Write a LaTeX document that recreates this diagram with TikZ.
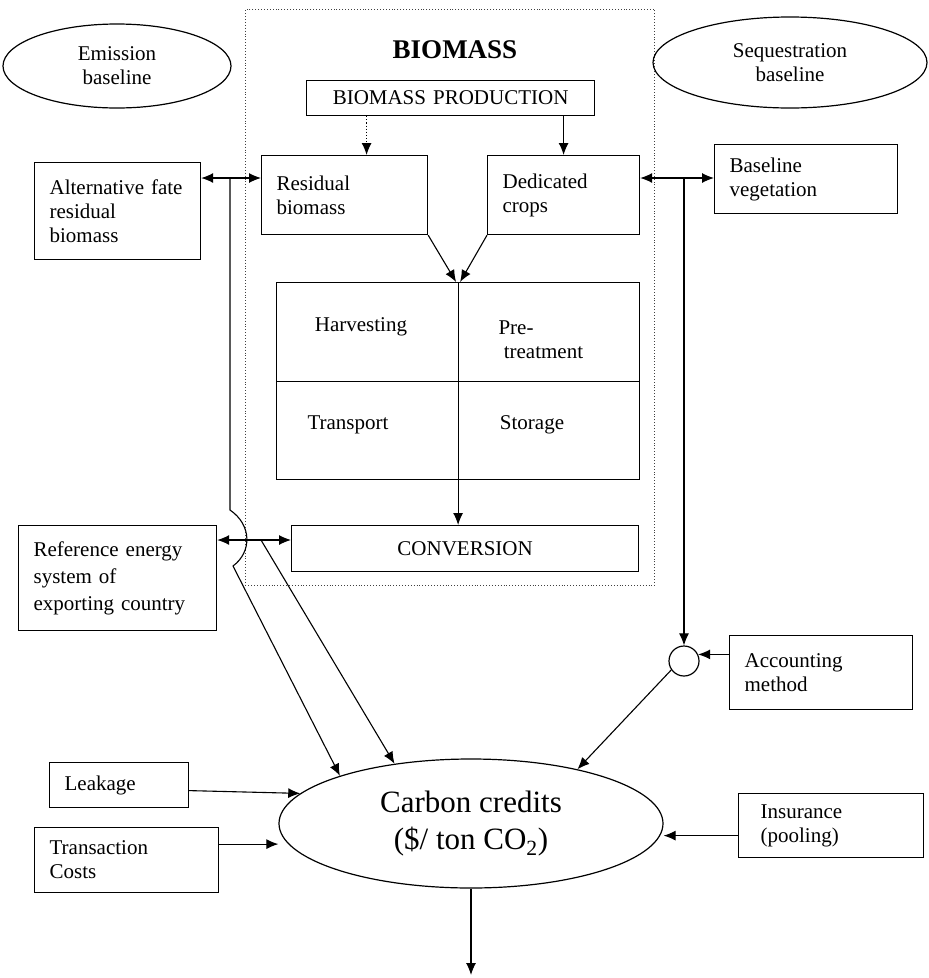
\documentclass[tikz,border=0pt]{standalone}
\usepackage{fontspec}
\setmainfont{Liberation Serif}
\usetikzlibrary{shapes, positioning, arrows.meta, calc}

\begin{document}
\begin{tikzpicture}[x=1pt, y=-1pt,
    every node/.style={font=\fontsize{21}{24}\selectfont},
    box/.style={draw, line width=1.2pt, anchor=north west, align=left,
                inner xsep=15pt, inner ysep=0pt},
    oval/.style={draw, ellipse, line width=1.2pt, inner sep=0pt, align=center},
    frame/.style={draw=black!75, dotted, line width=0.9pt, anchor=north west, inner sep=0pt},
    arr/.style={line width=1.1pt, -{Latex[length=12pt,width=10pt]}},
    biarr/.style={line width=1.1pt, {Latex[length=12pt,width=10pt]}-{Latex[length=12pt,width=10pt]}}]
    \useasboundingbox (0,0) rectangle (929,978);

    % Biomass chain (dotted frame)
    \node[frame, minimum width=409pt, minimum height=576pt] (bioframe) at (245,9) {};
    \node[font=\fontsize{27}{30}\selectfont\bfseries] (biotitle) at (455,50) {BIOMASS};
    \node[box, align=center, text width=258pt, minimum height=35pt] (prod) at (306,80) {BIOMASS PRODUCTION};
    \node[box, text width=136pt, minimum height=79pt] (resid) at (261,155) {Residual\\biomass};
    \node[box, text width=122pt, minimum height=79pt] (dedic) at (487,155) {Dedicated\\crops};
    \node[box, minimum width=363pt, minimum height=197pt] (handling) at (276,282) {};
    \node (harvest) at (361,327) {Harvesting};
    \node[align=left, anchor=west] (pretreat) at (495,340) {Pre-\\\ treatment};
    \node (transport) at (348,425) {Transport};
    \node (storage) at (532,425) {Storage};
    \node[box, align=center, text width=317pt, minimum height=46pt] (conv) at (291,525) {CONVERSION};

    % Baselines and side boxes
    \node[oval, minimum width=228pt, minimum height=84pt] (emis) at (117,66) {Emission\\baseline};
    \node[oval, minimum width=274pt, minimum height=91pt] (seq) at (790,62.5) {Sequestration\\baseline};
    \node[box, text width=136pt, minimum height=97pt] (altfate) at (34,162) {Alternative fate\\residual\\biomass};
    \node[box, text width=153pt, minimum height=69pt] (basveg) at (714,144) {Baseline\\vegetation};
    \node[box, text width=168pt, minimum height=105pt, font=\fontsize{21}{27}\selectfont] (refen) at (18,525)
        {Reference energy\\system of\\exporting country};
    \node[draw, circle, line width=1.2pt, minimum size=30pt, inner sep=0pt] (circ) at (684,661) {};
    \node[box, text width=153pt, minimum height=74pt] (acct) at (729,635) {Accounting\\method};
    \node[box, text width=109pt, minimum height=45pt] (leak) at (49,762) {Leakage};
    \node[box, text width=154pt, minimum height=65pt] (trans) at (34,827) {Transaction\\Costs};
    \node[box, inner xsep=22pt, text width=141pt, minimum height=64pt] (insur) at (738,793) {Insurance\\(pooling)};

    % Result
    \node[oval, minimum width=384pt, minimum height=129pt, font=\fontsize{31}{37}\selectfont] (carbon) at (471,823.5)
        {Carbon credits\\(\$/ ton CO\textsubscript{2})};

    \coordinate (altjoin) at (230,178);
    \coordinate (convjoin) at (261,540);
    \coordinate (vegjoin) at (684,178);
    \coordinate (outflow) at (471,975);

    % Flow inside the chain
    \draw[arr, dotted] ([xshift=22pt]resid.north |- prod.south) -- ([xshift=22pt]resid.north);
    \draw[arr] (dedic.north |- prod.south) -- (dedic.north);
    \draw[arr] (resid.south east) -- ([xshift=-2pt]handling.north);
    \draw[arr] (dedic.south west) -- ([xshift=2pt]handling.north);
    \draw[line width=1.2pt] (handling.west) -- (handling.east);
    \draw[arr] (handling.north) -- (handling.north |- conv.north);

    % Links to the baselines
    \draw[biarr] (altfate.east |- altjoin) -- (resid.west |- altjoin);
    \draw[biarr] (refen.east |- convjoin) -- (conv.west |- convjoin);
    \draw[biarr] (dedic.east |- vegjoin) -- (basveg.west |- vegjoin);
    \draw[arr] (altjoin) -- (230,510) .. controls (252,525) and (252,552) .. (233,566) -- (carbon.160);
    \draw[arr] (convjoin) -- (carbon.142);
    \draw[arr] (vegjoin) -- (circ.north);
    \draw[arr] (acct.west |- circ.25) -- (circ.25);
    \draw[arr] (circ.215) -- (carbon.27);

    % Inputs and output of the credits
    \draw[arr] ([yshift=-5.5pt]leak.east) -- (carbon.170);
    \draw[arr] ([yshift=16pt]trans.east) -- ([yshift=16pt]trans.east -| carbon.west);
    \draw[arr] ([yshift=-10pt]insur.west) -- ([yshift=-10pt]insur.west -| carbon.east);
    \draw[arr] (carbon.south) -- (outflow);
\end{tikzpicture}
\end{document}
